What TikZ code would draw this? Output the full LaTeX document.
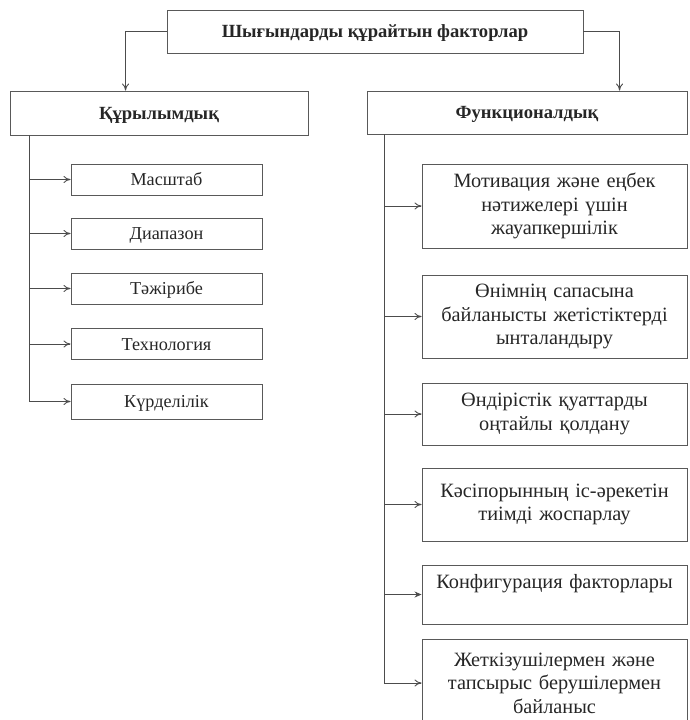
\documentclass[tikz,border=0pt]{standalone}
\usepackage{fontspec}
\setmainfont{Liberation Serif}
\usetikzlibrary{arrows.meta}
\usetikzlibrary{calc,positioning}

\tikzset{
  every node/.style={text=black!85},
  box/.style={draw=black!65, line width=0.9pt, inner sep=2pt, align=center},
  head/.style={box, text height=12pt, text depth=0pt, font=\fontsize{18.6}{22}\selectfont\bfseries},
  small/.style={box, text height=12pt, text depth=0pt, minimum width=191pt, minimum height=31pt, font=\fontsize{18.2}{21}\selectfont},
  big/.style={box, text width=258pt, minimum width=265pt, font=\fontsize{20.3}{23.5}\selectfont},
  line/.style={draw=black!70, line width=0.9pt}
}

\begin{document}
\begin{tikzpicture}[x=1pt, y=-1pt, >={To[length=7pt,width=7pt]}]

    \useasboundingbox (0,0) rectangle (689,720);

    % top and the two groups
    \node[head, minimum width=416pt, minimum height=43pt] (top) at (375,31.5) {Шығындарды құрайтын факторлар};
    \node[head, minimum width=298pt, minimum height=44pt] (kur) at (159,113) {Құрылымдық};
    \node[head, minimum width=320pt, minimum height=43pt] (fun) at (527,112.5) {Функционалдық};

    \draw[line, ->] (top.west) -| ([xshift=116pt]kur.north west);
    \draw[line, ->] (top.east) -| ([xshift=253pt]fun.north west);

    % structural factors
    \node[small] (m1) at (166.5,179.5) {Масштаб};
    \node[small] (m2) at (166.5,233.5) {Диапазон};
    \node[small] (m3) at (166.5,288.5) {Тәжірибе};
    \node[small] (m4) at (166.5,344) {Технология};
    \node[small, minimum height=35pt] (m5) at (166.5,401.5) {Күрделілік};

    \coordinate (ltrunk) at ([xshift=20pt]kur.south west);
    \draw[line, ->] (ltrunk) |- (m5.west);
    \foreach \n in {m1,m2,m3,m4}
        \draw[line, ->] (ltrunk |- \n.west) -- (\n.west);

    % functional factors
    \node[big, minimum height=84pt] (f1) at (554.5,206) {Мотивация және еңбек\\нәтижелері үшін\\жауапкершілік};
    \node[big, minimum height=83pt] (f2) at (554.5,316.5) {Өнімнің сапасына\\байланысты жетістіктерді\\ынталандыру};
    \node[big, minimum height=62pt] (f3) at (554.5,414) {Өндірістік қуаттарды\\оңтайлы қолдану};
    \node[big, minimum height=73pt] (f4) at (554.5,504.5) {Кәсіпорынның іс-әрекетін\\тиімді жоспарлау};
    \node[big, minimum height=59pt, text height=14pt, text depth=26pt] (f5) at (554.5,594.5) {Конфигурация факторлары};
    \node[big, minimum height=88pt] (f6) at (554.5,683) {Жеткізушілермен және\\тапсырыс берушілермен\\байланыс};

    \coordinate (rtrunk) at ([xshift=18pt]fun.south west);
    \draw[line, ->] (rtrunk) |- (f6.west);
    \foreach \n in {f1,f2,f3,f4}
        \draw[line, ->] (rtrunk |- \n.west) -- (\n.west);
    \draw[line, -{Stealth[length=7pt,width=6pt]}] (rtrunk |- f5.west) -- (f5.west);

\end{tikzpicture}
\end{document}
